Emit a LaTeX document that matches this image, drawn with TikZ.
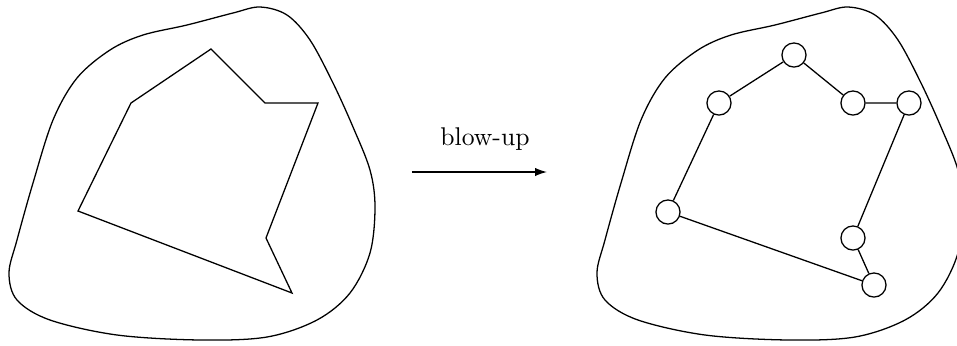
\documentclass[tikz,border=0pt]{standalone}
\usetikzlibrary{arrows.meta}
\begin{document}
\begin{tikzpicture}[x=0.39pt,y=-0.39pt,line width=0.5pt,
  vtx/.style={circle,draw,fill=white,inner sep=0pt,minimum size=9.4pt,line width=0.5pt},
  blob/.style={line width=0.5pt}]
\useasboundingbox (0,0) rectangle (957,345);
\clip (0,0) rectangle (957,345);
% left blob
\draw[blob] plot[smooth cycle,tension=0.55] coordinates {
 (260,7) (287,15) (310,40) (333,83) (353,127) (370,170) (375,207) (370,253)
 (350,293) (317,320) (267,337) (200,340) (117,335) (50,320) (17,300) (9,273)
 (17,240) (33,183) (53,120) (77,78) (110,50) (143,35) (187,25) (233,13)};
% right blob
\begin{scope}[xshift=588*0.39pt]
\draw[blob] plot[smooth cycle,tension=0.55] coordinates {
 (260,7) (287,15) (310,40) (333,83) (353,127) (370,170) (375,207) (370,253)
 (350,293) (317,320) (267,337) (200,340) (117,335) (50,320) (17,300) (9,273)
 (17,240) (33,183) (53,120) (77,78) (110,50) (143,35) (187,25) (233,13)};
\end{scope}
% left polygon
\coordinate (p1) at (131,103);
\coordinate (p2) at (211,49);
\coordinate (p3) at (265,103);
\coordinate (p4) at (318,103);
\coordinate (p5) at (266,238);
\coordinate (p6) at (292,293);
\coordinate (p7) at (78,211);
\draw[line join=miter] (p1) -- (p2) -- (p3) -- (p4) -- (p5) -- (p6) -- (p7) -- cycle;
% arrow
\node[anchor=base,inner sep=0pt] (lbl) at (485,145) {blow-up};
\coordinate (a1) at (412,172);
\coordinate (a2) at (547,172);
\draw[-{Latex[length=4.6pt,width=3.2pt]}] (a1) -- (a2);
% right graph
\node[vtx] (q1) at (719,103) {};
\node[vtx] (q2) at (794,55) {};
\node[vtx] (q3) at (853,103) {};
\node[vtx] (q4) at (909,103) {};
\node[vtx] (q5) at (853,238) {};
\node[vtx] (q6) at (874,285) {};
\node[vtx] (q7) at (668,212) {};
\draw (q1) -- (q2) -- (q3) -- (q4) -- (q5) -- (q6) -- (q7) -- (q1);
\end{tikzpicture}
\end{document}
